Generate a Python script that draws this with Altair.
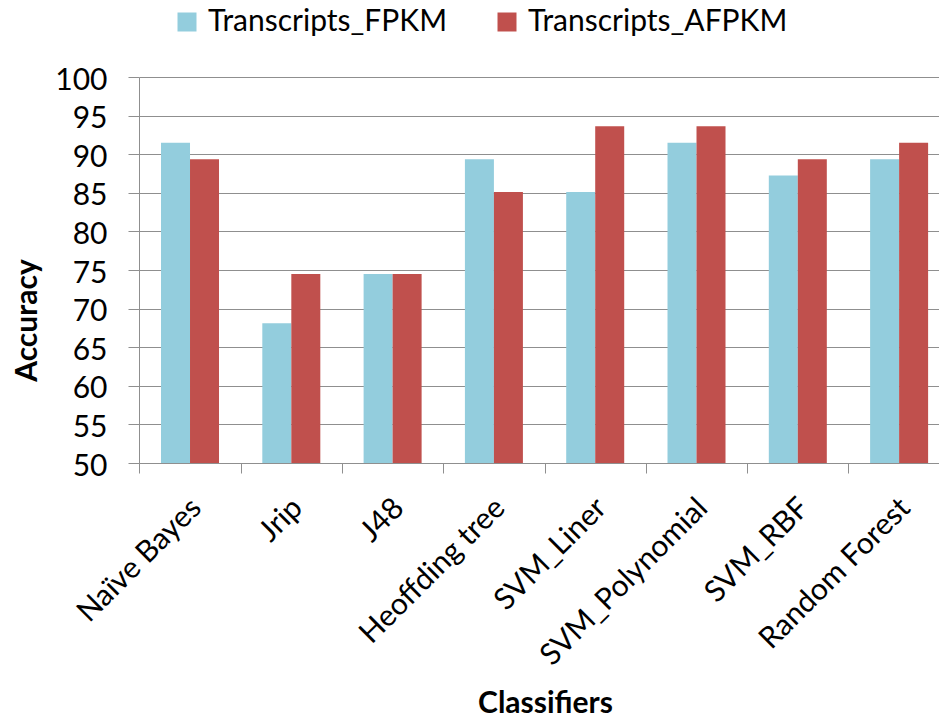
import altair as alt
import pandas as pd

# Classification accuracy per classifier for two transcript quantifications
classifiers = ["Naïve Bayes", "Jrip", "J48", "Heoffding tree", "SVM_Liner",
               "SVM_Polynomial", "SVM_RBF", "Random Forest"]
series = ["Transcripts_FPKM", "Transcripts_AFPKM"]
fpkm = [91.49, 68.09, 74.47, 89.36, 85.11, 91.49, 87.23, 89.36]
afpkm = [89.36, 74.47, 74.47, 85.11, 93.62, 93.62, 89.36, 91.49]
y_ticks = [50, 55, 60, 65, 70, 75, 80, 85, 90, 95, 100]
colors = ["#93CDDD", "#C0504D"]

rows = []
for name, vals in zip(series, [fpkm, afpkm]):
    for c, v in zip(classifiers, vals):
        rows.append({"Classifier": c, "Series": name, "Accuracy": v})
df = pd.DataFrame(rows)

FONT = "Lato"
FS = 30
GRID = "#8f8f8f"
STEP = 101.3

chart = alt.Chart(df).mark_bar(clip=True).encode(
    x=alt.X(
        "Classifier:N",
        sort=classifiers,
        scale=alt.Scale(paddingInner=0.4274, paddingOuter=0.1624, align=0.669, round=False),
        axis=alt.Axis(
            title="Classifiers",
            titleFont=FONT, titleFontSize=FS, titleFontWeight="bold", titleColor="black",
            titleX=406, titleY=240, titleAlign="center", titleBaseline="middle",
            labelFont=FONT, labelFontSize=FS, labelColor="black",
            labelAngle=-45, labelAlign="right", labelBaseline="middle",
            labelPadding=30, labelOffset=STEP / 2 + 6, labelLimit=400,
            labelOverlap=False, labelBound=False,
            tickSize=10, tickOffset=-STEP / 2, tickColor=GRID, tickWidth=1,
            domainColor=GRID, domainWidth=1, grid=False,
        ),
    ),
    xOffset=alt.XOffset("Series:N", sort=series,
                        scale=alt.Scale(paddingInner=0, paddingOuter=0)),
    y=alt.Y(
        "Accuracy:Q",
        scale=alt.Scale(domain=[50, 100], zero=False, nice=False),
        axis=alt.Axis(
            title="Accuracy",
            titleFont=FONT, titleFontSize=FS, titleFontWeight="bold", titleColor="black",
            titleX=-112, titleY=243, titleAngle=-90, titleAlign="center", titleBaseline="middle",
            values=y_ticks,
            labelFont=FONT, labelFontSize=FS, labelColor="black",
            labelPadding=21, labelOffset=3, labelFlush=False, labelOverlap=False,
            tickSize=11, tickColor=GRID, tickWidth=1,
            domainColor=GRID, domainWidth=1,
            grid=True, gridColor=GRID, gridWidth=1,
        ),
    ),
    y2=alt.datum(50),
    color=alt.Color(
        "Series:N",
        sort=series,
        scale=alt.Scale(domain=series, range=colors),
        legend=alt.Legend(
            title=None, orient="none", legendX=33, legendY=-70,
            direction="horizontal", symbolType="square", symbolSize=361,
            symbolStrokeWidth=0, symbolOpacity=1,
            labelFont=FONT, labelFontSize=FS, labelColor="black",
            labelOffset=6, columnPadding=44, padding=0, labelLimit=400,
        ),
    ),
).properties(
    width=800,
    height=386,
    autosize=alt.AutoSizeParams(type="none"),
    padding={"left": 139, "top": 77, "right": 0, "bottom": 256},
).configure_view(strokeWidth=0)

chart.save("out.html", embed_options={"renderer": "svg", "actions": False})
